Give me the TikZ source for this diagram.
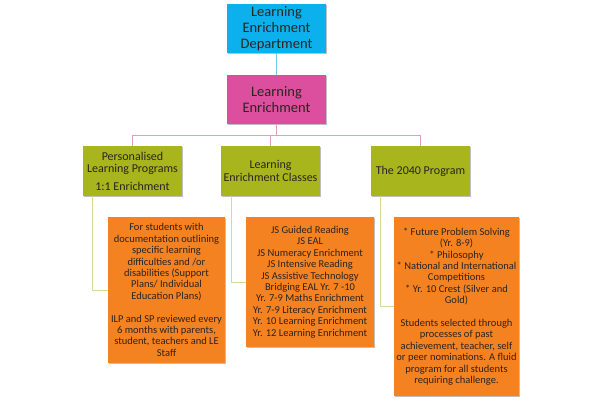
\documentclass[tikz,border=0pt]{standalone}
\usepackage{fontspec}
\setmainfont{Carlito}
\usetikzlibrary{shadows}
\definecolor{cyanbox}{HTML}{0BB0EC}
\definecolor{pinkbox}{HTML}{DC4F9E}
\definecolor{greenbox}{HTML}{A9B51C}
\definecolor{orangebox}{HTML}{F58220}
\definecolor{txt}{HTML}{2A2420}
\definecolor{bluelink}{HTML}{7CC7E4}
\definecolor{pinklink}{HTML}{E49AC5}
\definecolor{greenlink}{HTML}{D3DC94}
\tikzset{
  box/.style={draw=none, align=center, text=txt, inner sep=2pt,
    drop shadow={shadow xshift=1pt, shadow yshift=-1.2pt, opacity=0.25, fill=black}},
  topbox/.style={box, fill=cyanbox, minimum width=99pt, minimum height=49pt,
    font=\fontsize{14.5}{16}\selectfont},
  pinkb/.style={box, fill=pinkbox, minimum width=99pt, minimum height=49pt,
    font=\fontsize{14.5}{16}\selectfont},
  greenb/.style={box, fill=greenbox, minimum width=99pt, minimum height=50pt,
    font=\fontsize{12}{12.5}\selectfont},
  orangeb/.style={box, fill=orangebox, font=\fontsize{10.5}{11.4}\selectfont},
  bluel/.style={draw=bluelink, line width=1pt},
  pinkl/.style={draw=pinklink, line width=1pt},
  greenl/.style={draw=greenlink, line width=1pt}
}
\begin{document}
\begin{tikzpicture}[x=1pt,y=-1pt]
\useasboundingbox[fill=white] (0,0) rectangle (600,400);
\coordinate (busL) at (132.5,135);
\coordinate (busR) at (420.5,135);
\node[topbox] (dept) at (276.5,28.5) {Learning\\Enrichment\\Department};
\node[pinkb] (le) at (276.5,99.5) {Learning\\Enrichment};
\node[greenb] (gL) at (132.5,171) {Personalised\\Learning Programs\\[5pt]1:1 Enrichment};
\node[greenb] (gM) at (270.5,171) {Learning\\Enrichment Classes};
\node[greenb] (gR) at (420.5,171) {The 2040 Program};
\node[orangeb, minimum width=117pt, minimum height=146pt] (oL) at (166.5,290)
 {For students with\\documentation outlining\\specific learning\\difficulties and /or\\disabilities (Support\\Plans/ Individual\\Education Plans)\\[11.4pt]ILP and SP reviewed every\\6 months with parents,\\student, teachers and LE\\Staff};
\node[orangeb, minimum width=128pt, minimum height=130pt] (oM) at (310,282)
 {JS Guided Reading\\JS EAL\\JS Numeracy Enrichment\\JS Intensive Reading\\JS Assistive Technology\\Bridging EAL Yr. 7 -10\\Yr. 7-9 Maths Enrichment\\Yr. 7-9 Literacy Enrichment\\Yr. 10 Learning Enrichment\\Yr. 12 Learning Enrichment};
\node[orangeb, minimum width=123pt, minimum height=179pt] (oR) at (456.5,306.5)
 {* Future Problem Solving\\(Yr. 8-9)\\* Philosophy\\* National and International\\Competitions\\* Yr. 10 Crest (Silver and\\Gold)\\[11.4pt]Students selected through\\processes of past\\achievement, teacher, self\\or peer nominations. A fluid\\program for all students\\requiring challenge.};
\draw[bluel] (dept.south) -- (le.north);
\draw[pinkl] (le.south) -- (le.south |- busL);
\draw[pinkl] (gL.north |- busL) -- (gR.north |- busR);
\draw[pinkl] (gL.north |- busL) -- (gL.north);
\draw[pinkl] (gM.north |- busL) -- (gM.north);
\draw[pinkl] (gR.north |- busR) -- (gR.north);
\draw[greenl] ([xshift=10pt]gL.south west) |- (oL.west);
\draw[greenl] ([xshift=11pt]gM.south west) |- (oM.west);
\draw[greenl] ([xshift=10pt]gR.south west) |- (oR.west);
\end{tikzpicture}
\end{document}
